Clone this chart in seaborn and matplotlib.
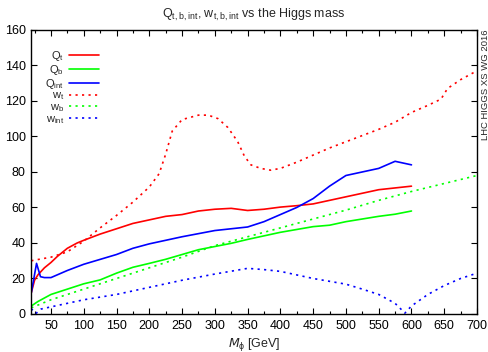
import matplotlib
matplotlib.use("Agg")
import matplotlib.pyplot as plt
import seaborn as sns
from matplotlib.ticker import MultipleLocator

# Values
qt_mass = [20, 25, 30, 40, 50, 60, 75, 90, 100, 125, 150, 175, 200, 225, 250, 275,
           300, 325, 350, 375, 400, 425, 450, 475, 500, 550, 600]
qt_vals = [12, 19, 22, 26, 29, 32.5, 37, 40, 41.5, 45, 48, 51, 53, 55, 56, 58,
           59, 59.5, 58.3, 59, 60.2, 61, 62, 64, 66, 70, 72]

qb_mass = [20, 30, 50, 75, 100, 125, 150, 175, 200, 225, 250, 275, 300, 325, 350,
           375, 400, 450, 475, 500, 550, 575, 600]
qb_vals = [4.5, 7, 11, 14, 17, 19.2, 23, 26.3, 28.5, 30.8, 33.5, 36.2, 38, 39.8, 42,
           44, 46, 49.2, 50, 52, 55, 56.2, 58]

qint_mass = [20, 28, 34, 40, 50, 75, 100, 150, 175, 200, 250, 300, 350, 375, 400,
             425, 450, 475, 500, 550, 575, 600]
qint_vals = [12, 28.5, 21, 20.5, 20.5, 24.5, 28, 33.5, 37, 39.5, 43.5, 47, 49, 52, 56,
             60, 65, 72, 78, 82, 86, 84]

wt_mass = [20, 50, 75, 100, 125, 150, 175, 200, 215, 225, 235, 250, 275, 290, 305,
           320, 335, 345, 355, 370, 385, 400, 425, 450, 475, 500, 525, 550, 575,
           600, 625, 645, 655, 675, 700]
wt_vals = [30, 32, 35, 41, 48.5, 55.5, 63, 71.5, 79, 90, 103, 109.5, 112, 112, 110,
           105, 97, 89, 84, 82, 81, 82, 85.5, 89.5, 93.5, 97, 100.5, 104, 108,
           113.5, 117.5, 121, 127, 132, 137]

wb_mass = [20, 50, 100, 150, 200, 250, 300, 350, 400, 450, 500, 550, 600, 650, 700]
wb_vals = [3.5, 8, 14, 20, 26, 32, 38.5, 43.5, 48.5, 53.5, 58.5, 64, 69, 73.5, 78]

wint_mass = [20, 27, 35, 50, 75, 100, 150, 200, 250, 300, 350, 375, 400, 450, 500,
             525, 550, 575, 590, 600, 625, 650, 675, 700]
wint_vals = [3, 0.3, 2.8, 4, 6, 8, 11, 15, 19, 22.5, 25.7, 25, 24, 20, 16.8,
             14, 11, 6, 0.5, 4.5, 11, 16, 20, 23]

sns.set_style("ticks")
plt.rcParams["font.family"] = ["Liberation Sans", "DejaVu Sans"]
plt.rcParams["mathtext.default"] = "regular"

fig = plt.figure(figsize=(4.89, 3.52), dpi=100)
ax = fig.add_axes([0.064, 0.108, 0.9115, 0.807])

dots = (0, (1.3, 2.6))
series = [
    (qt_mass, qt_vals, "red", "-", r"Q$_{t}$"),
    (qb_mass, qb_vals, "lime", "-", r"Q$_{b}$"),
    (qint_mass, qint_vals, "blue", "-", r"Q$_{int}$"),
    (wt_mass, wt_vals, "red", dots, r"w$_{t}$"),
    (wb_mass, wb_vals, "lime", dots, r"w$_{b}$"),
    (wint_mass, wint_vals, "blue", dots, r"w$_{int}$"),
]
for xs, ys, col, ls, lab in series:
    sns.lineplot(x=xs, y=ys, ax=ax, color=col, linestyle=ls, linewidth=1.2,
                 label=lab, sort=False, estimator=None)

ax.set_xlim(20, 700)
ax.set_ylim(0, 160)
ax.set_xticks(range(50, 701, 50))
ax.xaxis.set_minor_locator(MultipleLocator(25))
ax.yaxis.set_major_locator(MultipleLocator(20))
ax.tick_params(which="both", direction="in", top=True, right=True,
               labelsize=9, colors="black", pad=4)
ax.tick_params(which="major", length=4, width=0.8)
ax.tick_params(which="minor", length=2.5, width=0.8)
for sp in ax.spines.values():
    sp.set_linewidth(1.0)
    sp.set_color("black")

ax.set_xlabel(r"$\mathit{M}_{\phi}$ [GeV]", fontsize=9, labelpad=3)
ax.set_title(r"Q$_{t,b,int}$, w$_{t,b,int}$ vs the Higgs mass", fontsize=9, pad=9)

ax.legend(loc="upper left", bbox_to_anchor=(0.016, 0.958), frameon=False,
          markerfirst=False, fontsize=8, handlelength=2.7, labelspacing=0.0,
          borderaxespad=0.2, handletextpad=0.4)

fig.text(0.992, 0.915, "LHC HIGGS XS WG 2016", rotation=90, ha="center", va="top",
         fontsize=6.8)

fig.savefig("out.png", dpi=100)
